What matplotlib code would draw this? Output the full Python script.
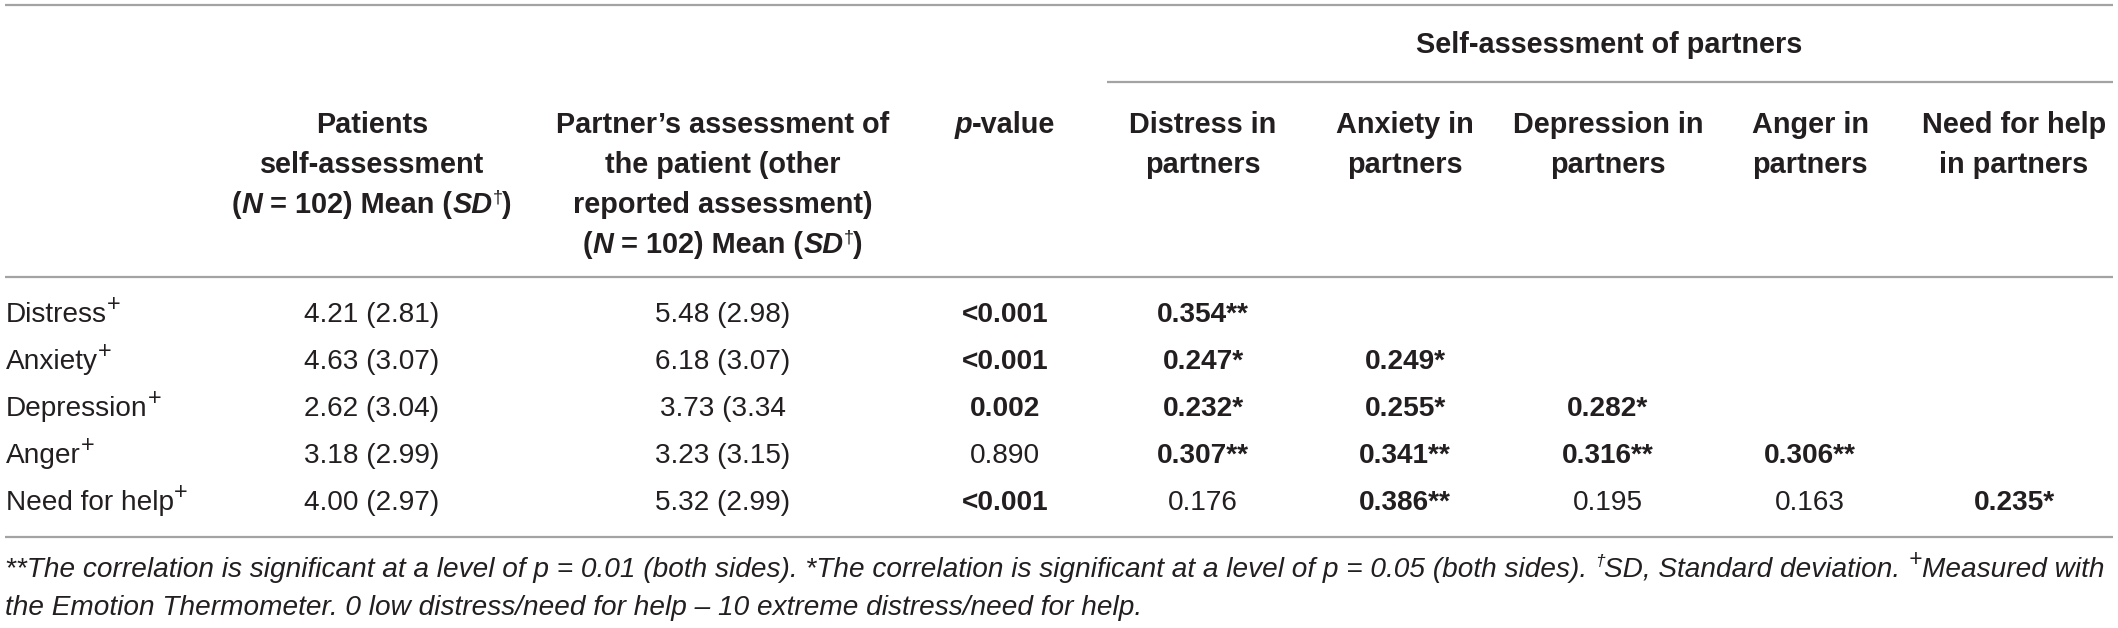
import matplotlib
matplotlib.use("Agg")
import matplotlib.pyplot as plt
from matplotlib.font_manager import FontProperties

# ---------------- data ----------------
row_labels = ["Distress", "Anxiety", "Depression", "Anger", "Need for help"]
patient_mean = [4.21, 4.63, 2.62, 3.18, 4.00]
patient_sd = [2.81, 3.07, 3.04, 2.99, 2.97]
partner_assess = ["5.48 (2.98)", "6.18 (3.07)", "3.73 (3.34", "3.23 (3.15)", "5.32 (2.99)"]
p_values = ["<0.001", "<0.001", "0.002", "0.890", "<0.001"]
p_bold = [True, True, True, False, True]
partner_headers = [["Distress in", "partners"], ["Anxiety in", "partners"],
                   ["Depression in", "partners"], ["Anger in", "partners"],
                   ["Need for help", "in partners"]]
corr = [[0.354],
        [0.247, 0.249],
        [0.232, 0.255, 0.282],
        [0.307, 0.341, 0.316, 0.306],
        [0.176, 0.386, 0.195, 0.163, 0.235]]
corr_stars = [["**"],
              ["*", "*"],
              ["*", "*", "*"],
              ["**", "**", "**", "**"],
              ["", "**", "", "", "*"]]

# ---------------- layout ----------------
W, H = 2118, 628
FAM = "Liberation Sans"
TXT = "#231f20"
RULE = "#a3a3a3"
FS = 20.2   # body size in points (=28 px at 100 dpi)
FSH = 20.8  # header size

fig = plt.figure(figsize=(W / 100, H / 100), dpi=100)
ax = fig.add_axes([0, 0, 1, 1])
ax.set_xlim(0, W)
ax.set_ylim(H, 0)
ax.axis("off")
renderer = fig.canvas.get_renderer()


def prop(weight="normal", style="normal", size=FS):
    return FontProperties(family=FAM, weight=weight, style=style, size=size)


def width(s, fp):
    a, _, _ = renderer.get_text_width_height_descent("|" + s + "|", fp, ismath=False)
    b, _, _ = renderer.get_text_width_height_descent("||", fp, ismath=False)
    return a - b


def run(s, weight="normal", style="normal", sup=False, scale=1.0):
    return dict(s=s, weight=weight, style=style, sup=sup, scale=scale)


def draw_runs(x, y, runs, ha="center", size=FS):
    fps = []
    ws = []
    for r in runs:
        sz = size * r["scale"] * (0.62 if r["sup"] else 1.0)
        fp = prop(r["weight"], r["style"], sz)
        fps.append(fp)
        ws.append(width(r["s"], fp))
    total = sum(ws)
    if ha == "center":
        x0 = x - total / 2
    elif ha == "right":
        x0 = x - total
    else:
        x0 = x
    for r, fp, w in zip(runs, fps, ws):
        dy = -size * 0.52 if r["sup"] else 0
        ax.text(x0, y + dy, r["s"], fontproperties=fp, color=TXT,
                ha="left", va="baseline")
        x0 += w
    return total


def hline(y, x0, x1):
    ax.plot([x0, x1], [y, y], color=RULE, lw=1.6, solid_capstyle="butt")


# rules
hline(5, 5, 2113)
hline(82, 1107, 2113)
hline(277, 5, 2113)
hline(537, 5, 2113)

# column positions
x_label = 6
x_c1 = 372
x_c2 = 723
x_p = 1005
x_partners = [1203, 1405, 1608, 1810, 2014]

# header
draw_runs(1609, 53, [run("Self-assessment of partners", "bold")], size=FSH)
hb0, hstep = 133, 40
c1_lines = [[run("Patients", "bold")],
            [run("self-assessment", "bold")],
            [run("(", "bold"), run("N", "bold", "italic"), run(" = 102) Mean (", "bold"),
             run("SD", "bold", "italic"), run("\u2020", "normal", sup=True), run(")", "bold")]]
c2_lines = [[run("Partner\u2019s assessment of", "bold")],
            [run("the patient (other", "bold")],
            [run("reported assessment)", "bold")],
            [run("(", "bold"), run("N", "bold", "italic"), run(" = 102) Mean (", "bold"),
             run("SD", "bold", "italic"), run("\u2020", "normal", sup=True), run(")", "bold")]]
for i, ln in enumerate(c1_lines):
    draw_runs(x_c1, hb0 + i * hstep, ln, size=FSH)
for i, ln in enumerate(c2_lines):
    draw_runs(x_c2, hb0 + i * hstep, ln, size=FSH)
draw_runs(x_p, hb0, [run("p", "bold", "italic"), run("-value", "bold")], size=FSH)
for xc, lines in zip(x_partners, partner_headers):
    for i, s in enumerate(lines):
        draw_runs(xc, hb0 + i * hstep, [run(s, "bold")], size=FSH)

# body
row_base = [322, 369, 416, 463, 510]
for i, lab in enumerate(row_labels):
    y = row_base[i]
    draw_runs(x_label, y, [run(lab), run("+", sup=True, scale=1.35)], ha="left")
    draw_runs(x_c1, y, [run(f"{patient_mean[i]:.2f} ({patient_sd[i]:.2f})")])
    draw_runs(x_c2, y, [run(partner_assess[i])])
    draw_runs(x_p, y, [run(p_values[i], "bold" if p_bold[i] else "normal")])
    for j, (v, st) in enumerate(zip(corr[i], corr_stars[i])):
        wgt = "bold" if st else "normal"
        draw_runs(x_partners[j], y, [run(f"{v:.3f}{st}", wgt)])

# footnote
fn1 = [run("**The correlation is significant at a level of p = 0.01 (both sides). "
           "*The correlation is significant at a level of p = 0.05 (both sides). ", style="italic"),
       run("\u2020", style="italic", sup=True),
       run("SD, Standard deviation. ", style="italic"),
       run("+", style="italic", sup=True, scale=1.3),
       run("Measured with", style="italic")]
fn2 = [run("the Emotion Thermometer. 0 low distress/need for help \u2013 10 extreme "
           "distress/need for help.", style="italic")]

# fit footnote size so that line 1 spans the table width
target = 2106
fs_fn = 18.0
for _ in range(3):
    tot = 0
    for r in fn1:
        sz = fs_fn * r["scale"] * (0.62 if r["sup"] else 1.0)
        tot += width(r["s"], prop(r["weight"], r["style"], sz))
    fs_fn *= target / tot
draw_runs(5, 577, fn1, ha="left", size=fs_fn)
draw_runs(5, 615, fn2, ha="left", size=fs_fn)

fig.savefig("out.png", dpi=100)
